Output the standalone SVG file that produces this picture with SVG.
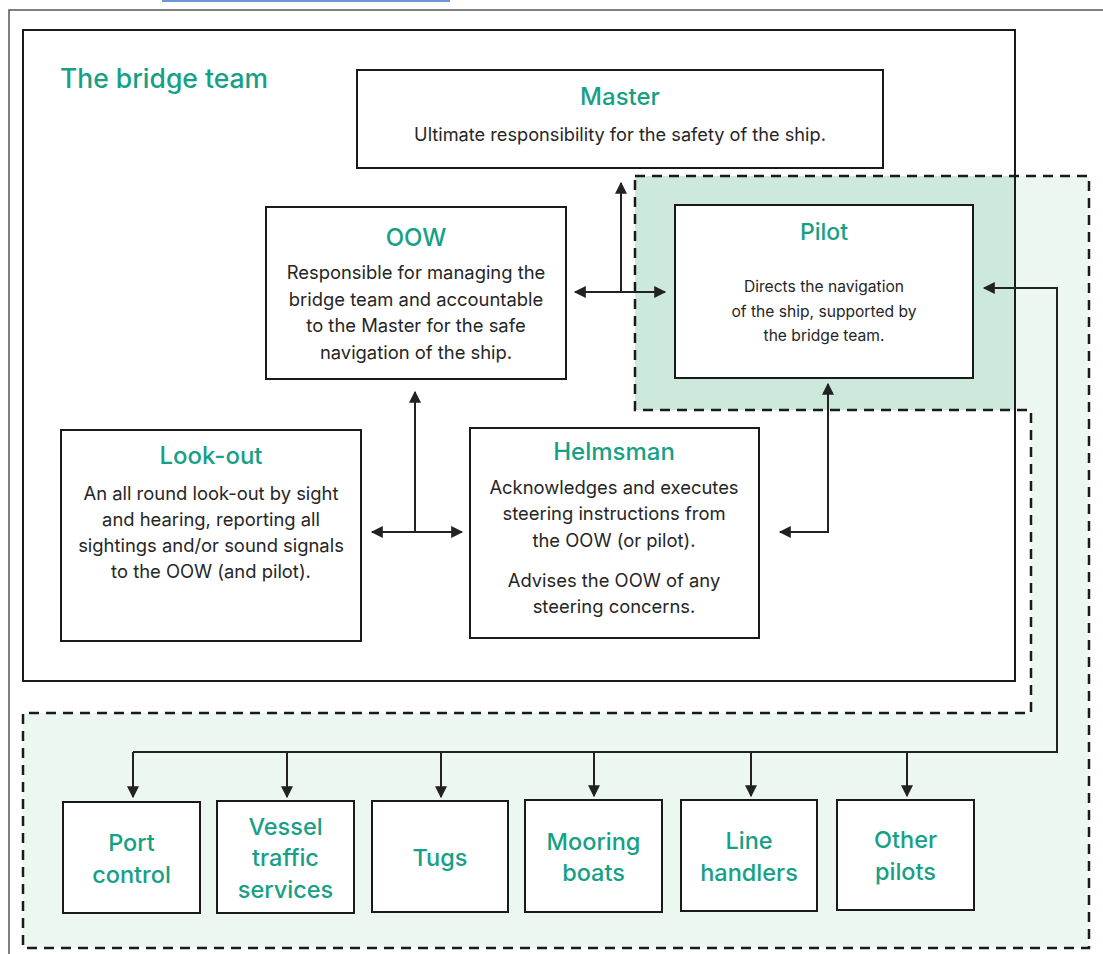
<svg xmlns="http://www.w3.org/2000/svg" width="1103" height="954" viewBox="0 0 1103 954">
<defs>
<style>
.box{fill:#fff;stroke:#1a1a1a;stroke-width:2}
.t{font-family:Inter,"Liberation Sans",sans-serif;fill:#16a085;font-weight:500;text-anchor:middle}
.b{font-family:Inter,"Liberation Sans",sans-serif;fill:#262626;text-anchor:middle;font-size:18.4px}
.dash{fill:none;stroke:#1a1a1a;stroke-width:2.5;stroke-dasharray:10 7}
.c{fill:none;stroke:#222;stroke-width:2}
</style>
<marker id="ah" viewBox="0 0 10 10" refX="9" refY="5" markerWidth="14" markerHeight="12" markerUnits="userSpaceOnUse" orient="auto-start-reverse">
<path d="M0,0 L10,5 L0,10 z" fill="#222"/>
</marker>
</defs>
<rect width="1103" height="954" fill="#fff"/>
<line x1="162" y1="1" x2="450" y2="1" stroke="#6b98d4" stroke-width="2"/>
<path d="M9,954 V10 H1103" fill="none" stroke="#555" stroke-width="1.5"/>

<g id="zones">
<path d="M635,176 H1089 V948 H23 V713 H1031 V410 H635 Z" fill="#edf7f2"/>
<rect x="635" y="176" width="380" height="234" fill="#cce9dc"/>
<path class="dash" d="M635,176 H1089 V948 H23 V713 H1031 V410 H635 Z"/>
</g>

<g id="bridge-team">
<rect x="23" y="30" width="992" height="651" fill="none" stroke="#1a1a1a" stroke-width="2"/>
<text class="t" x="60" y="88" style="text-anchor:start;font-size:26.5px">The bridge team</text>
</g>

<g id="master">
<rect class="box" x="357" y="70" width="526" height="98"/>
<text class="t" x="620" y="105" font-size="24">Master</text>
<text class="b" x="620" y="141" style="font-size:18.2px">Ultimate responsibility for the safety of the ship.</text>
</g>

<g id="oow">
<rect class="box" x="266" y="207" width="300" height="172"/>
<text class="t" x="416" y="246" font-size="24">OOW</text>
<text class="b" x="416" y="279">Responsible for managing the</text>
<text class="b" x="416" y="306">bridge team and accountable</text>
<text class="b" x="416" y="332">to the Master for the safe</text>
<text class="b" x="416" y="359">navigation of the ship.</text>
</g>

<g id="pilot">
<rect class="box" x="675" y="205" width="298" height="173"/>
<text class="t" x="824" y="240" font-size="23">Pilot</text>
<text class="b" x="824" y="292" style="font-size:15.6px">Directs the navigation</text>
<text class="b" x="824" y="317" style="font-size:15.6px">of the ship, supported by</text>
<text class="b" x="824" y="341" style="font-size:15.6px">the bridge team.</text>
</g>

<g id="lookout">
<rect class="box" x="61" y="430" width="300" height="211"/>
<text class="t" x="211" y="464" font-size="24">Look-out</text>
<text class="b" x="211" y="500">An all round look-out by sight</text>
<text class="b" x="211" y="526">and hearing, reporting all</text>
<text class="b" x="211" y="552">sightings and/or sound signals</text>
<text class="b" x="211" y="578">to the OOW (and pilot).</text>
</g>

<g id="helmsman">
<rect class="box" x="470" y="428" width="289" height="210"/>
<text class="t" x="614" y="460" font-size="24">Helmsman</text>
<text class="b" x="614" y="494">Acknowledges and executes</text>
<text class="b" x="614" y="520">steering instructions from</text>
<text class="b" x="614" y="547">the OOW (or pilot).</text>
<text class="b" x="614" y="587">Advises the OOW of any</text>
<text class="b" x="614" y="613">steering concerns.</text>
</g>

<g id="port-control">
<rect class="box" x="63" y="802" width="137" height="111"/>
<text class="t" x="131.5" y="851" font-size="23.5">Port</text>
<text class="t" x="131.5" y="883" font-size="23.5">control</text>
</g>
<g id="vessel-traffic-services">
<rect class="box" x="217" y="801" width="137" height="112"/>
<text class="t" x="285.5" y="835" font-size="23.5">Vessel</text>
<text class="t" x="285.5" y="866" font-size="23.5">traffic</text>
<text class="t" x="285.5" y="898" font-size="23.5">services</text>
</g>
<g id="tugs">
<rect class="box" x="372" y="801" width="136" height="111"/>
<text class="t" x="440" y="866" font-size="23.5">Tugs</text>
</g>
<g id="mooring-boats">
<rect class="box" x="525" y="800" width="137" height="112"/>
<text class="t" x="593.5" y="850" font-size="23.5">Mooring</text>
<text class="t" x="593.5" y="881" font-size="23.5">boats</text>
</g>
<g id="line-handlers">
<rect class="box" x="681" y="800" width="136" height="111"/>
<text class="t" x="749" y="849" font-size="23.5">Line</text>
<text class="t" x="749" y="881" font-size="23.5">handlers</text>
</g>
<g id="other-pilots">
<rect class="box" x="837" y="800" width="137" height="110"/>
<text class="t" x="905.5" y="848" font-size="23.5">Other</text>
<text class="t" x="905.5" y="880" font-size="23.5">pilots</text>
</g>

<g id="connectors">
<path class="c" d="M575,292 H665" marker-start="url(#ah)" marker-end="url(#ah)"/>
<path class="c" d="M621,292 V183" marker-end="url(#ah)"/>
<path class="c" d="M372,532 H462" marker-start="url(#ah)" marker-end="url(#ah)"/>
<path class="c" d="M415,532 V392" marker-end="url(#ah)"/>
<path class="c" d="M780,532 H828 V384" marker-start="url(#ah)" marker-end="url(#ah)"/>
<path class="c" d="M984,288 H1057 V752 H133" marker-start="url(#ah)"/>
<path class="c" d="M133,752 V797" marker-end="url(#ah)"/>
<path class="c" d="M287,752 V797" marker-end="url(#ah)"/>
<path class="c" d="M441,752 V797" marker-end="url(#ah)"/>
<path class="c" d="M594,752 V796" marker-end="url(#ah)"/>
<path class="c" d="M751,752 V796" marker-end="url(#ah)"/>
<path class="c" d="M907,752 V796" marker-end="url(#ah)"/>
</g>
</svg>
